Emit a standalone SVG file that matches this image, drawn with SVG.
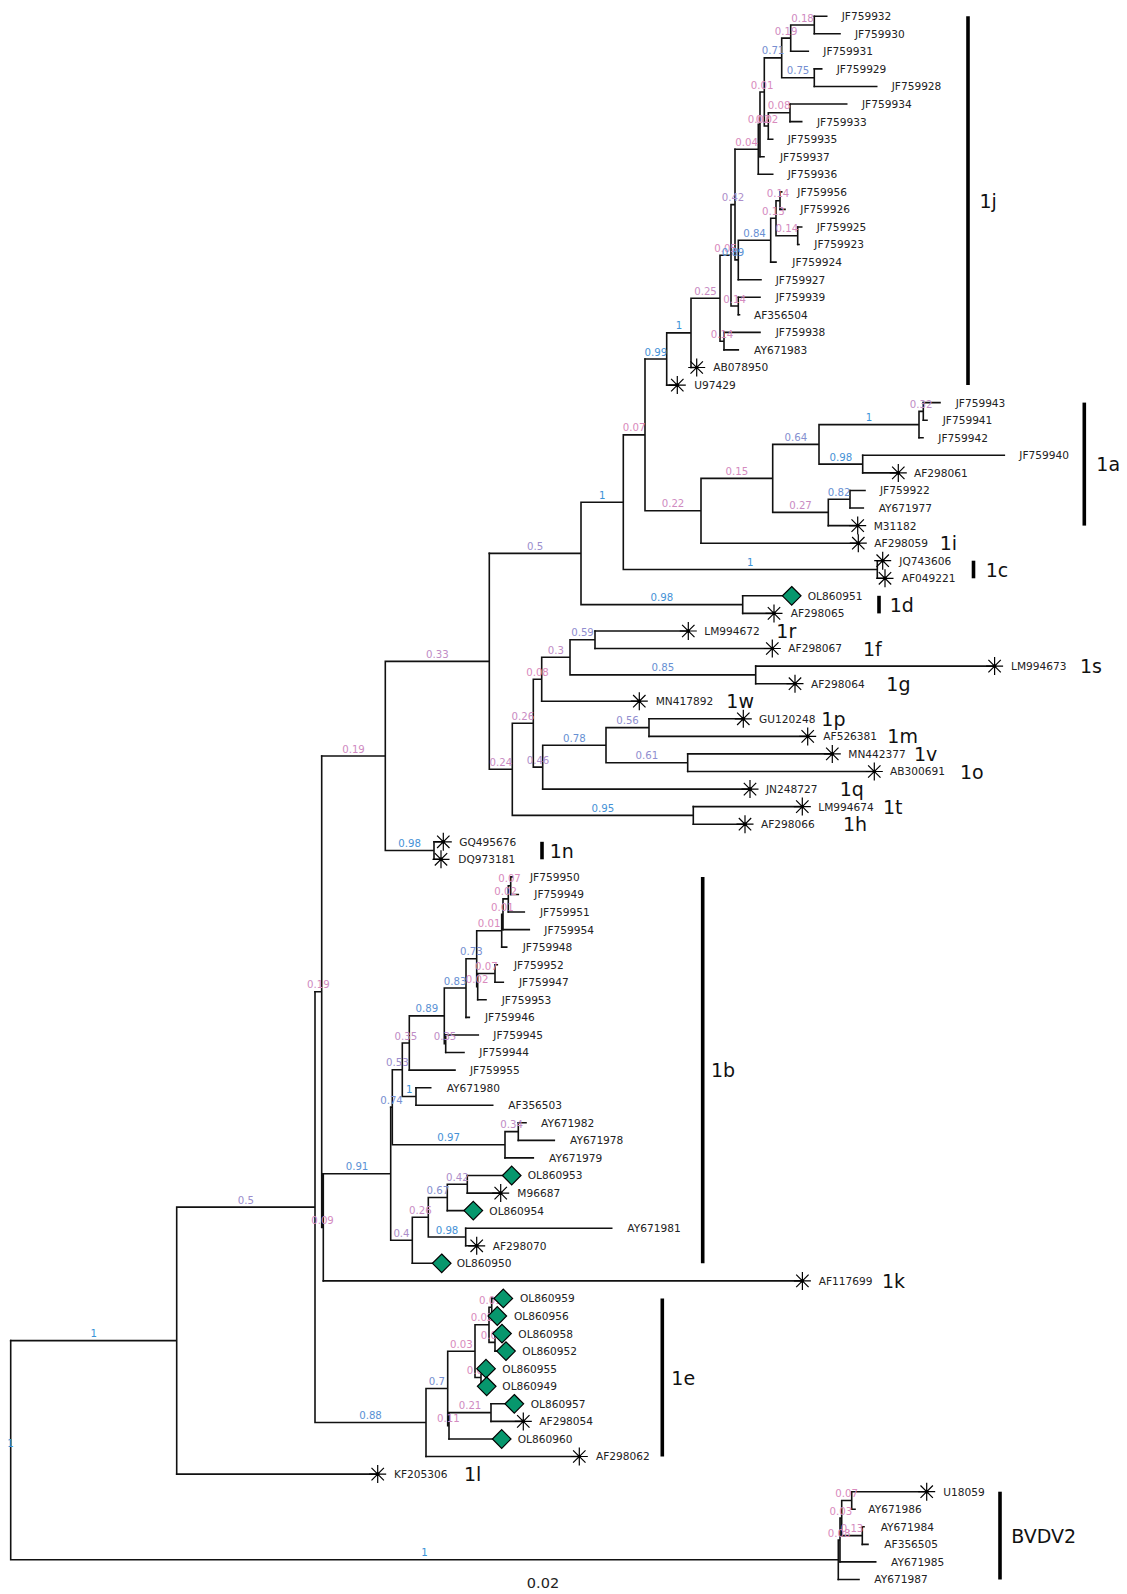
<svg xmlns="http://www.w3.org/2000/svg" xmlns:xlink="http://www.w3.org/1999/xlink" width="1127" height="1594" viewBox="0 0 1127 1594">
<style>
.br{fill:none;stroke:#111;stroke-width:1.6;stroke-linecap:square}
.tl{font-family:"DejaVu Sans",sans-serif;font-size:10.6px;fill:#222}
.sl{font-family:"DejaVu Sans",sans-serif;font-size:10.2px;text-anchor:middle}
.cl{font-family:"DejaVu Sans",sans-serif;font-size:19px;fill:#111}
.bar{stroke:#000;stroke-width:3.6}
.p0{fill:#d98bbd}.p1{fill:#d48bbf}.p2{fill:#cf8bc1}.p3{fill:#c98cc3}.p4{fill:#c08dc6}.p5{fill:#ad8eca}.p6{fill:#9c8ecd}.p7{fill:#908ecf}.p8{fill:#858fd0}.p9{fill:#778fd1}.p10{fill:#6890d3}.p11{fill:#5a91d4}.p12{fill:#4692d6}.p13{fill:#3c93d7}
</style>
<defs>
<g id="star"><path d="M-8.5 0H8.5M0 -9V9M-6.2 -6.2L6.2 6.2M-6.2 6.2L6.2 -6.2" stroke="#000" stroke-width="1.2" fill="none"/><circle r="1.8" fill="#000"/></g>
<polygon id="dia" points="0,-9.3 9.3,0 0,9.3 -9.3,0" fill="#07976d" stroke="#000" stroke-width="1.2"/>
</defs>
<rect width="1127" height="1594" fill="#fff"/>
<g id="connectors" class="br">
<path d="M790.7 25H814.3M814.3 16.2V33.8M781.7 38.15H790.7M790.7 25V51.3M781.7 77.7H814.3M814.3 68.9V86.5M764.3 57.9H781.7M781.7 38.15V77.7M768.3 112.8H790M790 104V121.6M764.3 126H768.3M768.3 112.8V139.2M760 92H764.3M764.3 57.9V126M758.3 124.3H760M760 92V156.7M735 149.3H758.3M758.3 124.3V174.3"/>
<path d="M776 200.7H780M780 191.9V209.4M776 235.8H797.7M797.7 227V244.5M770.7 218.2H776M776 200.7V235.8M738.3 240.2H770.7M770.7 218.2V262.1M735 259.9H738.3M738.3 240.2V279.7M731 204.6H735M735 149.3V259.9M731 306H738.3M738.3 297.2V314.8M720 255.3H731M731 204.6V306M720 341.2H724M724 332.4V349.9M691 298.2H720M720 255.3V341.2M666.7 332.9H691M691 298.2V367.5M645 359H666.7M666.7 332.9V385.1"/>
<path d="M919 411.4H923.3M923.3 402.6V420.2M819 424.6H919M919 411.4V437.8M819 464.1H862.7M862.7 455.3V472.9M772.7 444.4H819M819 424.6V464.1M828.3 499.3H850M850 490.5V508M772.7 512.4H828.3M828.3 499.3V525.6M701 478.4H772.7M772.7 444.4V512.4M645 510.8H701M701 478.4V543.2M623.3 434.9H645M645 359V510.8M623.3 569.5H877.3M877.3 560.7V578.3M581 502.2H623.3M623.3 434.9V569.5M581 604.6H742.7M742.7 595.8V613.4M489.3 553.4H581M581 502.2V604.6"/>
<path d="M570 639.8H595M595 631V648.5M570 674.9H755.7M755.7 666.1V683.7M541.7 657.3H570M570 639.8V674.9M533.3 679.3H541.7M541.7 657.3V701.2M606 727.6H649M649 718.8V736.4M606 762.7H687.7M687.7 753.9V771.5M542.7 745.2H606M606 727.6V762.7M533.3 767.1H542.7M542.7 745.2V789.1M512.3 723.2H533.3M533.3 679.3V767.1M512.3 815.4H693.3M693.3 806.6V824.2M489.3 769.3H512.3M512.3 723.2V815.4M385.3 661.4H489.3M489.3 553.4V769.3M385.3 850.5H434M434 841.8V859.3M321.7 756H385.3M385.3 661.4V850.5"/>
<path d="M508.3 885.7H510.7M510.7 876.9V894.5M503 898.9H508.3M508.3 885.7V912M501.7 914.2H503M503 898.9V929.6M476.7 930.7H501.7M501.7 914.2V947.1M477.7 973.5H495M495 964.7V982.3M476.7 986.7H477.7M477.7 973.5V999.8M466 958.7H476.7M476.7 930.7V986.7M444.3 988H466M466 958.7V1017.4M444.3 1043.8H445.7M445.7 1035V1052.5M409.3 1015.9H444.3M444.3 988V1043.8M402.3 1043H409.3M409.3 1015.9V1070.1M402.3 1096.5H416M416 1087.7V1105.2M392.3 1069.8H402.3M402.3 1043V1096.5M505 1131.6H518.3M518.3 1122.8V1140.4M392.3 1144.8H505M505 1131.6V1157.9M390.7 1107.3H392.3M392.3 1069.8V1144.8"/>
<path d="M447.3 1184.3H467.3M467.3 1175.5V1193.1M428.3 1197.5H447.3M447.3 1184.3V1210.6M428.3 1237H465.7M465.7 1228.2V1245.8M412.3 1217.3H428.3M428.3 1197.5V1237M390.7 1240.3H412.3M412.3 1217.3V1263.3M323.3 1173.8H390.7M390.7 1107.3V1240.3M321.7 1227.4H323.3M323.3 1173.8V1280.9M315 991.7H321.7M321.7 756V1227.4"/>
<path d="M489 1307.2H491.7M491.7 1298.4V1316M489 1342.4H495M495 1333.6V1351.1M475 1324.8H489M489 1307.2V1342.4M475 1377.5H481M481 1368.7V1386.3M447.7 1351.2H475M475 1324.8V1377.5M449 1412.6H491M491 1403.8V1421.4M447.7 1425.8H449M449 1412.6V1439M426 1388.5H447.7M447.7 1351.2V1425.8M315 1422.5H426M426 1388.5V1456.5M176.7 1207.1H315M315 991.7V1422.5M10.7 1340.6H176.7M176.7 1207.1V1474.1"/>
<path d="M841.7 1500.5H851.7M851.7 1491.7V1509.2M841.7 1535.6H862.3M862.3 1526.8V1544.4M840 1518H841.7M841.7 1500.5V1535.6M838.3 1540H840M840 1518V1561.9M10.7 1559.7H838.3M838.3 1540V1579.5M10.7 1340.6V1559.7"/>
<path d="M814.3 16.2H826.7M814.3 33.8H840M790.7 51.3H808.3M814.3 68.9H821.7M814.3 86.5H876.7M790 104H846.7M790 121.6H801.7M768.3 139.2H772.7M760 156.7H764M758.3 174.3H772.7M780 191.9H781.7M780 209.4H785M797.7 227H801.7M797.7 244.5H799M770.7 262.1H776M738.3 279.7H761M738.3 297.2H760M738.3 314.8H739.5M724 332.4H760M724 349.9H738.3M691 367.5H696.7M666.7 385.1H677.3"/>
<path d="M923.3 402.6H940M923.3 420.2H927M919 437.8H923M862.7 455.3H1004.3M862.7 472.9H898.3M850 490.5H865M850 508H863.3M828.3 525.6H857.7M701 543.2H858.3M877.3 560.7H882.7M877.3 578.3H885M742.7 595.8H791.7M742.7 613.4H774M595 631H688.3M595 648.5H772.3M755.7 666.1H994.6M755.7 683.7H795M541.7 701.2H639.3M649 718.8H743.3M649 736.4H807.7M687.7 753.9H832.3M687.7 771.5H874.3M542.7 789.1H750M693.3 806.6H802.3M693.3 824.2H745M434 841.8H443.3M434 859.3H441"/>
<path d="M510.7 876.9H512M510.7 894.5H518.3M508.3 912H524.3M503 929.6H529.3M501.7 947.1H506.7M495 964.7H497.3M495 982.3H503.3M477.7 999.8H486M466 1017.4H469.3M445.7 1035H478.3M445.7 1052.5H464M409.3 1070.1H455M416 1087.7H430.7M416 1105.2H492.7M518.3 1122.8H526M518.3 1140.4H554.3M505 1157.9H533.3M467.3 1175.5H511.7M467.3 1193.1H500.7M447.3 1210.6H473.3M465.7 1228.2H611.7M465.7 1245.8H476.7M412.3 1263.3H441.7M323.3 1280.9H802.4"/>
<path d="M491.7 1298.4H503.3M491.7 1316H497.3M495 1333.6H502M495 1351.1H506M481 1368.7H486M481 1386.3H486.7M491 1403.8H514.3M491 1421.4H523.3M449 1439H501.7M426 1456.5H579.3M176.7 1474.1H377.7M851.7 1491.7H926.7M851.7 1509.2H855M862.3 1526.8H864M862.3 1544.4H868M840 1561.9H875.7M838.3 1579.5H859"/>
</g>
<g id="support-labels" class="sl">
<text x="802.5" y="21.5" class="p2">0.18</text>
<text x="786.2" y="34.6" class="p2">0.19</text>
<text x="798" y="74.2" class="p9">0.75</text>
<text x="773" y="54.4" class="p9">0.71</text>
<text x="779.2" y="109.3" class="p0">0.08</text>
<text x="759" y="122.5" class="p0">0.02</text>
<text x="767" y="122.5" class="p0">0.02</text>
<text x="762.2" y="88.5" class="p0">0.01</text>
<text x="746.7" y="145.8" class="p0">0.04</text>
<text x="778" y="197.2" class="p1">0.14</text>
<text x="786.9" y="232.3" class="p1">0.14</text>
<text x="773.4" y="214.7" class="p1">0.13</text>
<text x="754.5" y="236.7" class="p10">0.84</text>
<text x="725.5" y="251.8" class="p0">0.05</text>
<text x="733" y="256.4" class="p11">0.89</text>
<text x="733" y="201.1" class="p5">0.42</text>
<text x="734.7" y="302.5" class="p1">0.14</text>
<text x="722" y="337.7" class="p1">0.14</text>
<text x="705.5" y="294.7" class="p3">0.25</text>
<text x="678.9" y="329.4" class="p13">1</text>
<text x="655.9" y="355.5" class="p12">0.99</text>
<text x="921.2" y="407.9" class="p4">0.32</text>
<text x="869" y="421.1" class="p13">1</text>
<text x="840.9" y="460.6" class="p12">0.98</text>
<text x="795.9" y="440.9" class="p8">0.64</text>
<text x="839.2" y="495.8" class="p10">0.82</text>
<text x="800.5" y="508.9" class="p3">0.27</text>
<text x="736.9" y="474.9" class="p1">0.15</text>
<text x="673" y="507.3" class="p2">0.22</text>
<text x="634.2" y="431.4" class="p0">0.07</text>
<text x="750.3" y="566" class="p13">1</text>
<text x="602.2" y="498.7" class="p13">1</text>
<text x="661.9" y="601.1" class="p12">0.98</text>
<text x="535.2" y="549.9" class="p6">0.5</text>
<text x="582.5" y="636.3" class="p7">0.59</text>
<text x="662.9" y="671.4" class="p10">0.85</text>
<text x="555.9" y="653.8" class="p4">0.3</text>
<text x="537.5" y="675.8" class="p0">0.08</text>
<text x="627.5" y="724.1" class="p7">0.56</text>
<text x="646.9" y="759.2" class="p7">0.61</text>
<text x="574.4" y="741.7" class="p10">0.78</text>
<text x="538" y="763.6" class="p5">0.46</text>
<text x="522.8" y="719.7" class="p3">0.26</text>
<text x="602.8" y="811.9" class="p12">0.95</text>
<text x="500.8" y="765.8" class="p3">0.24</text>
<text x="437.3" y="657.9" class="p4">0.33</text>
<text x="409.7" y="847" class="p12">0.98</text>
<text x="353.5" y="752.5" class="p2">0.19</text>
<text x="509.5" y="882.2" class="p0">0.07</text>
<text x="505.7" y="895.4" class="p0">0.02</text>
<text x="502.4" y="910.7" class="p0">0.01</text>
<text x="489.2" y="927.2" class="p0">0.01</text>
<text x="486.4" y="970" class="p0">0.07</text>
<text x="477.2" y="983.2" class="p0">0.02</text>
<text x="471.4" y="955.2" class="p9">0.73</text>
<text x="455.2" y="984.5" class="p10">0.83</text>
<text x="445" y="1040.3" class="p4">0.35</text>
<text x="426.8" y="1012.4" class="p11">0.89</text>
<text x="405.8" y="1039.5" class="p4">0.35</text>
<text x="409.2" y="1093" class="p13">1</text>
<text x="397.3" y="1066.3" class="p6">0.53</text>
<text x="511.7" y="1128.1" class="p4">0.34</text>
<text x="448.7" y="1141.3" class="p12">0.97</text>
<text x="391.5" y="1103.8" class="p9">0.74</text>
<text x="457.3" y="1180.8" class="p5">0.42</text>
<text x="437.8" y="1194" class="p8">0.67</text>
<text x="447" y="1233.5" class="p12">0.98</text>
<text x="420.3" y="1213.8" class="p3">0.26</text>
<text x="401.5" y="1236.8" class="p5">0.4</text>
<text x="357" y="1170.3" class="p11">0.91</text>
<text x="322.5" y="1223.9" class="p1">0.09</text>
<text x="318.4" y="988.2" class="p2">0.19</text>
<text x="490.4" y="1303.7" class="p0">0.01</text>
<text x="482" y="1321.3" class="p0">0.02</text>
<text x="492" y="1338.9" class="p0">0.01</text>
<text x="478" y="1374" class="p0">0.01</text>
<text x="461.4" y="1347.7" class="p0">0.03</text>
<text x="470" y="1409.1" class="p2">0.21</text>
<text x="448.4" y="1422.3" class="p1">0.11</text>
<text x="436.9" y="1385" class="p9">0.7</text>
<text x="370.5" y="1419" class="p11">0.88</text>
<text x="245.9" y="1203.6" class="p6">0.5</text>
<text x="93.7" y="1337.1" class="p13">1</text>
<text x="846.7" y="1497" class="p0">0.07</text>
<text x="852" y="1532.1" class="p1">0.13</text>
<text x="840.9" y="1514.5" class="p0">0.03</text>
<text x="839.2" y="1536.5" class="p0">0.08</text>
<text x="424.5" y="1556.2" class="p13">1</text>
<text x="10.5" y="1447" class="p13">1</text>
</g>
<g class="tl">
<g id="leaf-JF759932"><text x="841.7" y="20.1">JF759932</text></g>
<g id="leaf-JF759930"><text x="855" y="37.7">JF759930</text></g>
<g id="leaf-JF759931"><text x="823.3" y="55.2">JF759931</text></g>
<g id="leaf-JF759929"><text x="836.7" y="72.8">JF759929</text></g>
<g id="leaf-JF759928"><text x="891.7" y="90.4">JF759928</text></g>
<g id="leaf-JF759934"><text x="862" y="107.9">JF759934</text></g>
<g id="leaf-JF759933"><text x="817" y="125.5">JF759933</text></g>
<g id="leaf-JF759935"><text x="787.7" y="143.1">JF759935</text></g>
<g id="leaf-JF759937"><text x="780" y="160.6">JF759937</text></g>
<g id="leaf-JF759936"><text x="787.7" y="178.2">JF759936</text></g>
<g id="leaf-JF759956"><text x="797.3" y="195.8">JF759956</text></g>
<g id="leaf-JF759926"><text x="800.3" y="213.3">JF759926</text></g>
<g id="leaf-JF759925"><text x="816.7" y="230.9">JF759925</text></g>
<g id="leaf-JF759923"><text x="814.3" y="248.4">JF759923</text></g>
<g id="leaf-JF759924"><text x="792.3" y="266">JF759924</text></g>
<g id="leaf-JF759927"><text x="775.7" y="283.6">JF759927</text></g>
<g id="leaf-JF759939"><text x="775.7" y="301.1">JF759939</text></g>
<g id="leaf-AF356504"><text x="754" y="318.7">AF356504</text></g>
<g id="leaf-JF759938"><text x="775.7" y="336.3">JF759938</text></g>
<g id="leaf-AY671983"><text x="754" y="353.8">AY671983</text></g>
<g id="leaf-AB078950"><use href="#star" x="696.7" y="367.5"/><text x="713.3" y="371.4">AB078950</text></g>
<g id="leaf-U97429"><use href="#star" x="677.3" y="385.1"/><text x="694.3" y="389">U97429</text></g>
<g id="leaf-JF759943"><text x="955.7" y="406.5">JF759943</text></g>
<g id="leaf-JF759941"><text x="942.7" y="424.1">JF759941</text></g>
<g id="leaf-JF759942"><text x="938.3" y="441.7">JF759942</text></g>
<g id="leaf-JF759940"><text x="1019.3" y="459.2">JF759940</text></g>
<g id="leaf-AF298061"><use href="#star" x="898.3" y="472.9"/><text x="914" y="476.8">AF298061</text></g>
<g id="leaf-JF759922"><text x="880" y="494.4">JF759922</text></g>
<g id="leaf-AY671977"><text x="878.7" y="511.9">AY671977</text></g>
<g id="leaf-M31182"><use href="#star" x="857.7" y="525.6"/><text x="873.7" y="529.5">M31182</text></g>
<g id="leaf-AF298059"><use href="#star" x="858.3" y="543.2"/><text x="874.3" y="547.1">AF298059</text></g>
<g id="leaf-JQ743606"><use href="#star" x="882.7" y="560.7"/><text x="899.3" y="564.6">JQ743606</text></g>
<g id="leaf-AF049221"><use href="#star" x="885" y="578.3"/><text x="901.7" y="582.2">AF049221</text></g>
<g id="leaf-OL860951"><use href="#dia" x="791.7" y="595.8"/><text x="807.7" y="599.7">OL860951</text></g>
<g id="leaf-AF298065"><use href="#star" x="774" y="613.4"/><text x="790.7" y="617.3">AF298065</text></g>
<g id="leaf-LM994672"><use href="#star" x="688.3" y="631"/><text x="704.3" y="634.9">LM994672</text></g>
<g id="leaf-AF298067"><use href="#star" x="772.3" y="648.5"/><text x="788.3" y="652.4">AF298067</text></g>
<g id="leaf-LM994673"><use href="#star" x="994.6" y="666.1"/><text x="1011" y="670">LM994673</text></g>
<g id="leaf-AF298064"><use href="#star" x="795" y="683.7"/><text x="811" y="687.6">AF298064</text></g>
<g id="leaf-MN417892"><use href="#star" x="639.3" y="701.2"/><text x="655.7" y="705.1">MN417892</text></g>
<g id="leaf-GU120248"><use href="#star" x="743.3" y="718.8"/><text x="759" y="722.7">GU120248</text></g>
<g id="leaf-AF526381"><use href="#star" x="807.7" y="736.4"/><text x="823.3" y="740.3">AF526381</text></g>
<g id="leaf-MN442377"><use href="#star" x="832.3" y="753.9"/><text x="848.3" y="757.8">MN442377</text></g>
<g id="leaf-AB300691"><use href="#star" x="874.3" y="771.5"/><text x="890" y="775.4">AB300691</text></g>
<g id="leaf-JN248727"><use href="#star" x="750" y="789.1"/><text x="766" y="793">JN248727</text></g>
<g id="leaf-LM994674"><use href="#star" x="802.3" y="806.6"/><text x="818.3" y="810.5">LM994674</text></g>
<g id="leaf-AF298066"><use href="#star" x="745" y="824.2"/><text x="761" y="828.1">AF298066</text></g>
<g id="leaf-GQ495676"><use href="#star" x="443.3" y="841.8"/><text x="459.3" y="845.7">GQ495676</text></g>
<g id="leaf-DQ973181"><use href="#star" x="441" y="859.3"/><text x="458.3" y="863.2">DQ973181</text></g>
<g id="leaf-JF759950"><text x="530" y="880.8">JF759950</text></g>
<g id="leaf-JF759949"><text x="534.3" y="898.4">JF759949</text></g>
<g id="leaf-JF759951"><text x="540" y="915.9">JF759951</text></g>
<g id="leaf-JF759954"><text x="544.3" y="933.5">JF759954</text></g>
<g id="leaf-JF759948"><text x="522.7" y="951">JF759948</text></g>
<g id="leaf-JF759952"><text x="514" y="968.6">JF759952</text></g>
<g id="leaf-JF759947"><text x="519" y="986.2">JF759947</text></g>
<g id="leaf-JF759953"><text x="501.7" y="1003.7">JF759953</text></g>
<g id="leaf-JF759946"><text x="485" y="1021.3">JF759946</text></g>
<g id="leaf-JF759945"><text x="493.3" y="1038.9">JF759945</text></g>
<g id="leaf-JF759944"><text x="479.3" y="1056.4">JF759944</text></g>
<g id="leaf-JF759955"><text x="470" y="1074">JF759955</text></g>
<g id="leaf-AY671980"><text x="446.7" y="1091.6">AY671980</text></g>
<g id="leaf-AF356503"><text x="508.3" y="1109.1">AF356503</text></g>
<g id="leaf-AY671982"><text x="541" y="1126.7">AY671982</text></g>
<g id="leaf-AY671978"><text x="570" y="1144.3">AY671978</text></g>
<g id="leaf-AY671979"><text x="549" y="1161.8">AY671979</text></g>
<g id="leaf-OL860953"><use href="#dia" x="511.7" y="1175.5"/><text x="527.7" y="1179.4">OL860953</text></g>
<g id="leaf-M96687"><use href="#star" x="500.7" y="1193.1"/><text x="517.3" y="1197">M96687</text></g>
<g id="leaf-OL860954"><use href="#dia" x="473.3" y="1210.6"/><text x="489.3" y="1214.5">OL860954</text></g>
<g id="leaf-AY671981"><text x="627.3" y="1232.1">AY671981</text></g>
<g id="leaf-AF298070"><use href="#star" x="476.7" y="1245.8"/><text x="492.7" y="1249.7">AF298070</text></g>
<g id="leaf-OL860950"><use href="#dia" x="441.7" y="1263.3"/><text x="456.7" y="1267.2">OL860950</text></g>
<g id="leaf-AF117699"><use href="#star" x="802.4" y="1280.9"/><text x="818.7" y="1284.8">AF117699</text></g>
<g id="leaf-OL860959"><use href="#dia" x="503.3" y="1298.4"/><text x="520" y="1302.3">OL860959</text></g>
<g id="leaf-OL860956"><use href="#dia" x="497.3" y="1316"/><text x="514" y="1319.9">OL860956</text></g>
<g id="leaf-OL860958"><use href="#dia" x="502" y="1333.6"/><text x="518.3" y="1337.5">OL860958</text></g>
<g id="leaf-OL860952"><use href="#dia" x="506" y="1351.1"/><text x="522.3" y="1355">OL860952</text></g>
<g id="leaf-OL860955"><use href="#dia" x="486" y="1368.7"/><text x="502.3" y="1372.6">OL860955</text></g>
<g id="leaf-OL860949"><use href="#dia" x="486.7" y="1386.3"/><text x="502.3" y="1390.2">OL860949</text></g>
<g id="leaf-OL860957"><use href="#dia" x="514.3" y="1403.8"/><text x="530.7" y="1407.7">OL860957</text></g>
<g id="leaf-AF298054"><use href="#star" x="523.3" y="1421.4"/><text x="539.3" y="1425.3">AF298054</text></g>
<g id="leaf-OL860960"><use href="#dia" x="501.7" y="1439"/><text x="517.7" y="1442.9">OL860960</text></g>
<g id="leaf-AF298062"><use href="#star" x="579.3" y="1456.5"/><text x="596" y="1460.4">AF298062</text></g>
<g id="leaf-KF205306"><use href="#star" x="377.7" y="1474.1"/><text x="394" y="1478">KF205306</text></g>
<g id="leaf-U18059"><use href="#star" x="926.7" y="1491.7"/><text x="943.3" y="1495.6">U18059</text></g>
<g id="leaf-AY671986"><text x="868.3" y="1513.1">AY671986</text></g>
<g id="leaf-AY671984"><text x="880.7" y="1530.7">AY671984</text></g>
<g id="leaf-AF356505"><text x="884.3" y="1548.3">AF356505</text></g>
<g id="leaf-AY671985"><text x="891" y="1565.8">AY671985</text></g>
<g id="leaf-AY671987"><text x="874.3" y="1583.4">AY671987</text></g>
</g>
<g id="clades" class="cl">
<g id="clade-1j"><line class="bar" x1="968" y1="16.2" x2="968" y2="385.1"/><text x="979.5" y="207.6">1j</text></g>
<g id="clade-1a"><line class="bar" x1="1084.3" y1="402.6" x2="1084.3" y2="525.6"/><text x="1096.3" y="471">1a</text></g>
<g id="clade-1c"><line class="bar" x1="973.5" y1="560.7" x2="973.5" y2="578.3"/><text x="985.7" y="576.5">1c</text></g>
<g id="clade-1d"><line class="bar" x1="879" y1="595.8" x2="879" y2="613.4"/><text x="889.7" y="611.6">1d</text></g>
<g id="clade-1n"><line class="bar" x1="542" y1="841.8" x2="542" y2="859.3"/><text x="549.7" y="857.5">1n</text></g>
<g id="clade-1b"><line class="bar" x1="702.7" y1="876.9" x2="702.7" y2="1263.3"/><text x="711" y="1077">1b</text></g>
<g id="clade-1e"><line class="bar" x1="662.3" y1="1298.4" x2="662.3" y2="1456.5"/><text x="671.3" y="1384.5">1e</text></g>
<g id="clade-BVDV2"><line class="bar" x1="1000" y1="1491.7" x2="1000" y2="1579.5"/><text x="1011.3" y="1542.6">BVDV2</text></g>
<g id="clade-1i"><text x="939.7" y="550.2">1i</text></g>
<g id="clade-1r"><text x="776.3" y="638">1r</text></g>
<g id="clade-1f"><text x="863" y="655.5">1f</text></g>
<g id="clade-1s"><text x="1080" y="673.1">1s</text></g>
<g id="clade-1g"><text x="886.3" y="690.7">1g</text></g>
<g id="clade-1w"><text x="726.3" y="708.2">1w</text></g>
<g id="clade-1p"><text x="821.3" y="725.8">1p</text></g>
<g id="clade-1m"><text x="887.3" y="743.4">1m</text></g>
<g id="clade-1v"><text x="914" y="760.9">1v</text></g>
<g id="clade-1o"><text x="960" y="778.5">1o</text></g>
<g id="clade-1q"><text x="839.7" y="796.1">1q</text></g>
<g id="clade-1t"><text x="883" y="813.6">1t</text></g>
<g id="clade-1h"><text x="843" y="831.2">1h</text></g>
<g id="clade-1k"><text x="882" y="1287.9">1k</text></g>
<g id="clade-1l"><text x="464" y="1481.1">1l</text></g>
</g>
<g id="scale"><text x="543" y="1588" font-family="DejaVu Sans, sans-serif" font-size="14.5" text-anchor="middle" fill="#222">0.02</text></g>
</svg>
